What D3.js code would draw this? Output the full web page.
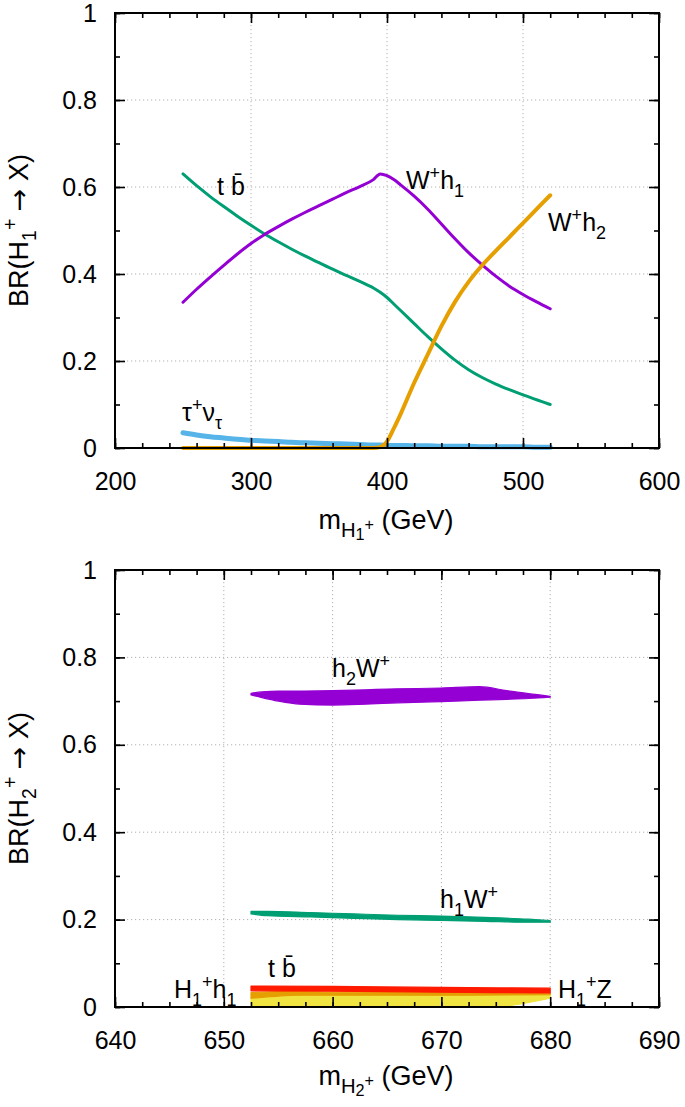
<!DOCTYPE html>
<html>
<head>
<meta charset="utf-8">
<script src="https://cdn.jsdelivr.net/npm/d3@7"></script>
<style>
  html, body { margin: 0; padding: 0; background: #fff; }
  svg { display: block; }
</style>
</head>
<body>
<svg id="chart" width="685" height="1107"></svg>
<script>
// ---------------- DATA ----------------
// Top panel: BR(H1+ -> X) vs m_H1+ (GeV)
const mH1 = [250,260,270,280,290,300,310,320,330,340,350,360,370,380,390,395,400,405,410,420,430,440,450,460,470,480,490,500,510,520];
const brTopTb = [0.630,0.603,0.578,0.555,0.533,0.512,0.492,0.474,0.457,0.441,0.426,0.411,0.397,0.383,0.368,0.358,0.346,0.331,0.316,0.286,0.256,0.228,0.202,0.180,0.162,0.147,0.134,0.122,0.111,0.100];
const brTopWh1 = [0.335,0.365,0.393,0.420,0.446,0.470,0.491,0.509,0.526,0.542,0.557,0.572,0.587,0.601,0.617,0.630,0.626,0.617,0.605,0.579,0.549,0.515,0.481,0.449,0.421,0.395,0.372,0.353,0.336,0.320];
const brTopWh2 = [0,0,0,0,0,0,0,0,0,0,0,0,0,0,0,0.002,0.015,0.045,0.078,0.150,0.215,0.280,0.336,0.382,0.420,0.453,0.485,0.517,0.549,0.581];
const brTopTauNu = [0.035,0.030,0.026,0.023,0.020,0.018,0.016,0.015,0.013,0.012,0.011,0.010,0.009,0.008,0.007,0.007,0.006,0.006,0.006,0.005,0.005,0.004,0.004,0.004,0.003,0.003,0.003,0.003,0.002,0.002];

// Bottom panel: BR(H2+ -> X) vs m_H2+ (GeV), drawn as scatter bands (upper / lower edges)
const mH2Wh2 = [652.5,653.5,655,657,660,663,666,670,673.5,676,678,680];
const brWh2Upper = [0.718,0.721,0.723,0.723,0.724,0.726,0.728,0.730,0.733,0.724,0.717,0.711];
const brWh2Lower = [0.714,0.708,0.700,0.693,0.691,0.693,0.696,0.699,0.702,0.704,0.706,0.709];

const mH2Wh1 = [652.5,654,658,662,666,670,674,678,680];
const brWh1Upper = [0.219,0.219,0.216,0.213,0.210,0.208,0.205,0.201,0.198];
const brWh1Lower = [0.213,0.209,0.206,0.203,0.200,0.198,0.196,0.194,0.194];

const mH2Tb = [652.5,660,670,680];
const brTbUpper = [0.048,0.047,0.045,0.043];
const brTbLower = [0.037,0.036,0.034,0.032];

const mH2H1h1 = [652.5,653.5,655,657,660,670,680];
const brH1h1Upper = [0.033,0.034,0.035,0.035,0.034,0.033,0.032];
const brH1h1Lower = [0.020,0.022,0.025,0.027,0.027,0.027,0.028];

const mH2H1Z = [652.5,653,654,656,658,660,670,675,677,680];
const brH1ZUpper = [0.022,0.024,0.025,0.026,0.027,0.027,0.028,0.028,0.028,0.028];
const brH1ZLower = [0.005,0.003,0.001,0,0,0,0,0,0.006,0.020];

// Axis ticks
const topXTicks = [200,300,400,500,600];
const topXMinor = d3.range(200, 601, 20);
const botXTicks = [640,650,660,670,680,690];
const botXMinor = d3.range(640, 690.1, 2.5);
const yTicks = [0,0.2,0.4,0.6,0.8,1];
const yMinor = d3.range(0, 1.01, 0.1);

// ---------------- DRAW ----------------
const FONT = "'Liberation Sans', Arial, Helvetica, sans-serif";
const FS = 25;
const TFS = 27;
const svg = d3.select("#chart");

const colors = {
  purple: "#9400d3", green: "#009e73", orange: "#e69f00",
  blue: "#56b4e9", red: "#ff1a00", yellow: "#f0e442"
};

function richText(g, x, y, parts, opts = {}) {
  const fs = opts.size || FS;
  const t = g.append("text")
    .attr("x", x).attr("y", y)
    .attr("font-family", FONT)
    .attr("font-size", fs)
    .attr("fill", "#000")
    .attr("text-anchor", opts.anchor || "start");
  if (opts.transform) t.attr("transform", opts.transform);
  let cur = 0;
  parts.forEach(p => {
    let target = 0, size = fs;
    if (p.sub) { target = 0.3 * fs; size = 0.72 * fs; }
    if (p.sup) { target = -0.42 * fs; size = 0.72 * fs; }
    if (p.off !== undefined) { target = p.off * fs; size = (p.scale || 0.72) * fs; }
    const ts = t.append("tspan").text(p.t).attr("font-size", size);
    if (p.font) ts.attr("font-family", p.font);
    if (target - cur !== 0) ts.attr("dy", target - cur);
    cur = target;
  });
  return t;
}

function panel(cfg) {
  const g = svg.append("g");
  const x = d3.scaleLinear().domain(cfg.xDomain).range([cfg.left, cfg.right]);
  const y = d3.scaleLinear().domain([0, 1]).range([cfg.bottom, cfg.top]);

  // grid
  const gridX = cfg.xTicks.slice(1, -1), gridY = yTicks.slice(1, -1);
  g.selectAll(null).data(gridX).join("line")
    .attr("x1", d => x(d)).attr("x2", d => x(d))
    .attr("y1", cfg.top).attr("y2", cfg.bottom)
    .attr("stroke", "#b0b0b0").attr("stroke-width", 1).attr("stroke-dasharray", "1.2,2.8");
  g.selectAll(null).data(gridY).join("line")
    .attr("x1", cfg.left).attr("x2", cfg.right)
    .attr("y1", d => y(d)).attr("y2", d => y(d))
    .attr("stroke", "#b0b0b0").attr("stroke-width", 1).attr("stroke-dasharray", "1.2,2.8");

  cfg.draw(g, x, y);

  // axes (ticks inward, mirrored)
  const styleAxis = sel => {
    sel.select(".domain").remove();
    sel.selectAll(".tick line").attr("stroke", "#000").attr("stroke-width", 1.6);
    sel.selectAll(".tick text").attr("font-family", FONT).attr("font-size", FS).attr("fill", "#000");
  };
  const xb = d3.axisBottom(x).tickValues(cfg.xTicks).tickSize(-10).tickPadding(24).tickFormat(d3.format("d"));
  g.append("g").attr("transform", `translate(0,${cfg.bottom})`).call(xb).call(styleAxis);
  g.append("g").attr("transform", `translate(0,${cfg.bottom})`)
    .call(d3.axisBottom(x).tickValues(cfg.xMinor).tickSize(-5).tickFormat("")).call(styleAxis);
  g.append("g").attr("transform", `translate(0,${cfg.top})`)
    .call(d3.axisTop(x).tickValues(cfg.xTicks).tickSize(-10).tickFormat("")).call(styleAxis);
  g.append("g").attr("transform", `translate(0,${cfg.top})`)
    .call(d3.axisTop(x).tickValues(cfg.xMinor).tickSize(-5).tickFormat("")).call(styleAxis);
  const yl = d3.axisLeft(y).tickValues(yTicks).tickSize(-10).tickPadding(18).tickFormat(d => d3.format("~g")(d));
  g.append("g").attr("transform", `translate(${cfg.left},0)`).call(yl).call(styleAxis);
  g.append("g").attr("transform", `translate(${cfg.left},0)`)
    .call(d3.axisLeft(y).tickValues(yMinor).tickSize(-5).tickFormat("")).call(styleAxis);
  g.append("g").attr("transform", `translate(${cfg.right},0)`)
    .call(d3.axisRight(y).tickValues(yTicks).tickSize(-10).tickFormat("")).call(styleAxis);
  g.append("g").attr("transform", `translate(${cfg.right},0)`)
    .call(d3.axisRight(y).tickValues(yMinor).tickSize(-5).tickFormat("")).call(styleAxis);

  // frame
  g.append("rect").attr("x", cfg.left).attr("y", cfg.top)
    .attr("width", cfg.right - cfg.left).attr("height", cfg.bottom - cfg.top)
    .attr("fill", "none").attr("stroke", "#000").attr("stroke-width", 2);

  // titles
  richText(g, 386, cfg.xTitleY, cfg.xTitle, { anchor: "middle", size: TFS });
  const cy = (cfg.top + cfg.bottom) / 2;
  richText(g, 0, 0, cfg.yTitle, { anchor: "middle", size: TFS, transform: `translate(28,${cy}) rotate(-90)` });

  cfg.labels.forEach(l => richText(g, l.x, l.y, l.parts));
}

const ARROW_FONT = "'DejaVu Sans', sans-serif";

// Top panel
panel({
  left: 115, right: 659, top: 13, bottom: 448,
  xDomain: [200, 600], xTicks: topXTicks, xMinor: topXMinor,
  xTitleY: 529,
  xTitle: [{t: "m"}, {t: "H", off: 0.28, scale: 0.75}, {t: "1", off: 0.42, scale: 0.6}, {t: "+", off: 0.02, scale: 0.6}, {t: " (GeV)", off: 0, scale: 1}],
  yTitle: [{t: "BR(H"}, {t: "1", sub: true}, {t: "+", sup: true}, {t: " "}, {t: "\u2192", font: ARROW_FONT, off: 0, scale: 1}, {t: " X)"}],
  draw: (g, x, y) => {
    const line = arr => d3.line().x((d, i) => x(mH1[i])).y(d => y(d)).curve(d3.curveMonotoneX)(arr);
    g.append("path").attr("d", line(brTopTb)).attr("fill", "none").attr("stroke", colors.green).attr("stroke-width", 3).attr("stroke-linecap", "round");
    g.append("path").attr("d", line(brTopWh1)).attr("fill", "none").attr("stroke", colors.purple).attr("stroke-width", 3).attr("stroke-linecap", "round");
    g.append("path").attr("d", line(brTopTauNu)).attr("fill", "none").attr("stroke", colors.blue).attr("stroke-width", 5).attr("stroke-linecap", "round");
    g.append("path").attr("d", line(brTopWh2)).attr("fill", "none").attr("stroke", colors.orange).attr("stroke-width", 4).attr("stroke-linecap", "round");
  },
  labels: [
    {x: 217, y: 195, parts: [{t: "t b\u0304"}]},
    {x: 406, y: 189, parts: [{t: "W"}, {t: "+", sup: true}, {t: "h"}, {t: "1", sub: true}]},
    {x: 548, y: 231, parts: [{t: "W"}, {t: "+", sup: true}, {t: "h"}, {t: "2", sub: true}]},
    {x: 182, y: 421, parts: [{t: "\u03c4"}, {t: "+", sup: true}, {t: "\u03bd"}, {t: "\u03c4", sub: true}]}
  ]
});

// Bottom panel
panel({
  left: 115, right: 659, top: 570, bottom: 1007,
  xDomain: [640, 690], xTicks: botXTicks, xMinor: botXMinor,
  xTitleY: 1085,
  xTitle: [{t: "m"}, {t: "H", off: 0.28, scale: 0.75}, {t: "2", off: 0.42, scale: 0.6}, {t: "+", off: 0.02, scale: 0.6}, {t: " (GeV)", off: 0, scale: 1}],
  yTitle: [{t: "BR(H"}, {t: "2", sub: true}, {t: "+", sup: true}, {t: " "}, {t: "\u2192", font: ARROW_FONT, off: 0, scale: 1}, {t: " X)"}],
  draw: (g, x, y) => {
    const band = (xs, up, lo, color) => {
      const a = d3.area().x((d, i) => x(xs[i])).y0((d, i) => y(lo[i])).y1(d => y(d)).curve(d3.curveMonotoneX);
      g.append("path").attr("d", a(up)).attr("fill", color).attr("stroke", color)
        .attr("stroke-width", 1.2).attr("stroke-linejoin", "round");
    };
    band(mH2H1Z, brH1ZUpper, brH1ZLower, colors.yellow);
    band(mH2H1h1, brH1h1Upper, brH1h1Lower, colors.orange);
    band(mH2Tb, brTbUpper, brTbLower, colors.red);
    band(mH2Wh1, brWh1Upper, brWh1Lower, colors.green);
    band(mH2Wh2, brWh2Upper, brWh2Lower, colors.purple);
  },
  labels: [
    {x: 332, y: 677, parts: [{t: "h"}, {t: "2", sub: true}, {t: "W"}, {t: "+", sup: true}]},
    {x: 440, y: 908, parts: [{t: "h"}, {t: "1", sub: true}, {t: "W"}, {t: "+", sup: true}]},
    {x: 268, y: 977, parts: [{t: "t b\u0304"}]},
    {x: 174, y: 998, parts: [{t: "H"}, {t: "1", sub: true}, {t: "+", sup: true}, {t: "h"}, {t: "1", sub: true}]},
    {x: 558, y: 998, parts: [{t: "H"}, {t: "1", sub: true}, {t: "+", sup: true}, {t: "Z"}]}
  ]
});
</script>
</body>
</html>
